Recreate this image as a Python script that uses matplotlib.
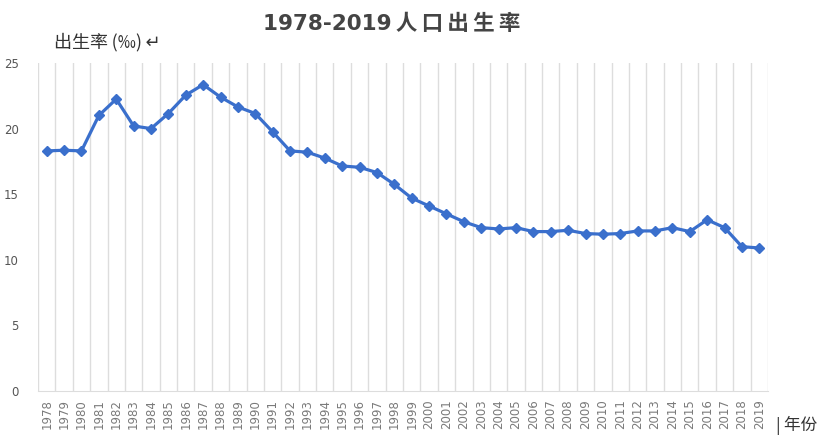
import matplotlib
matplotlib.use("Agg")
import matplotlib.pyplot as plt
import numpy as np

plt.rcParams['font.family'] = ['Noto Sans CJK SC', 'DejaVu Sans']

years = [str(y) for y in range(1978, 2020)]
birth_rate = [18.3, 18.35, 18.3, 21.0, 22.25, 20.2, 20.0, 21.15, 22.55, 23.35,
              22.4, 21.65, 21.15, 19.75, 18.3, 18.2, 17.75, 17.15, 17.05, 16.65,
              15.75, 14.7, 14.1, 13.5, 12.9, 12.45, 12.35, 12.45, 12.15, 12.15,
              12.25, 12.0, 11.95, 12.0, 12.2, 12.2, 12.45, 12.15, 13.05, 12.45,
              11.0, 10.9]
yticks = [0, 5, 10, 15, 20, 25]

fig = plt.figure(figsize=(8.3, 4.43), dpi=100)
ax = fig.add_axes([0.0458, 0.1174, 0.8795, 0.7404])

x = np.arange(len(years))
ax.plot(x, birth_rate, color='#3a6fcc', lw=2.3, marker='D', ms=5.5,
        markerfacecolor='#3a6fcc', markeredgecolor='#3a6fcc', zorder=3)

ax.set_xlim(-0.5, len(years) - 0.5)
ax.set_ylim(0, 25)
ax.set_yticks(yticks)
ax.set_yticklabels([str(v) for v in yticks], fontsize=8.5, color='#555555',
                   family=['DejaVu Sans'])
ax.set_xticks(x)
ax.set_xticklabels(years, rotation=90, fontsize=8.5, color='#7a7a7a',
                   family=['DejaVu Sans'])
ax.set_xticks(np.arange(len(years) + 1) - 0.5, minor=True)
ax.grid(which='minor', axis='x', color='#dddddd', lw=1.0)
ax.tick_params(axis='both', which='both', length=0)
ax.tick_params(axis='y', pad=14)
ax.tick_params(axis='x', pad=6)
for s in ['top', 'right', 'left']:
    ax.spines[s].set_visible(False)
ax.spines['bottom'].set_color('#dddddd')

fig.text(0.472, 0.945, '1978-2019\u2009人\u2009口\u2009出\u2009生\u2009率', ha='center', va='center',
         fontsize=15.5, fontweight='bold', color='#444444',
         family=['DejaVu Sans', 'Noto Sans CJK SC'])
fig.text(0.065, 0.905, '出生率\u2009(‰)\u2009↵', ha='left', va='center', fontsize=13,
         color='#333333', family=['Noto Sans CJK SC', 'DejaVu Sans'])
fig.text(0.935, 0.04, '|\u2009年份', ha='left', va='center', fontsize=12, color='#333333',
         family=['Noto Sans CJK SC', 'DejaVu Sans'])

fig.savefig('out.png', dpi=100, facecolor='white')
